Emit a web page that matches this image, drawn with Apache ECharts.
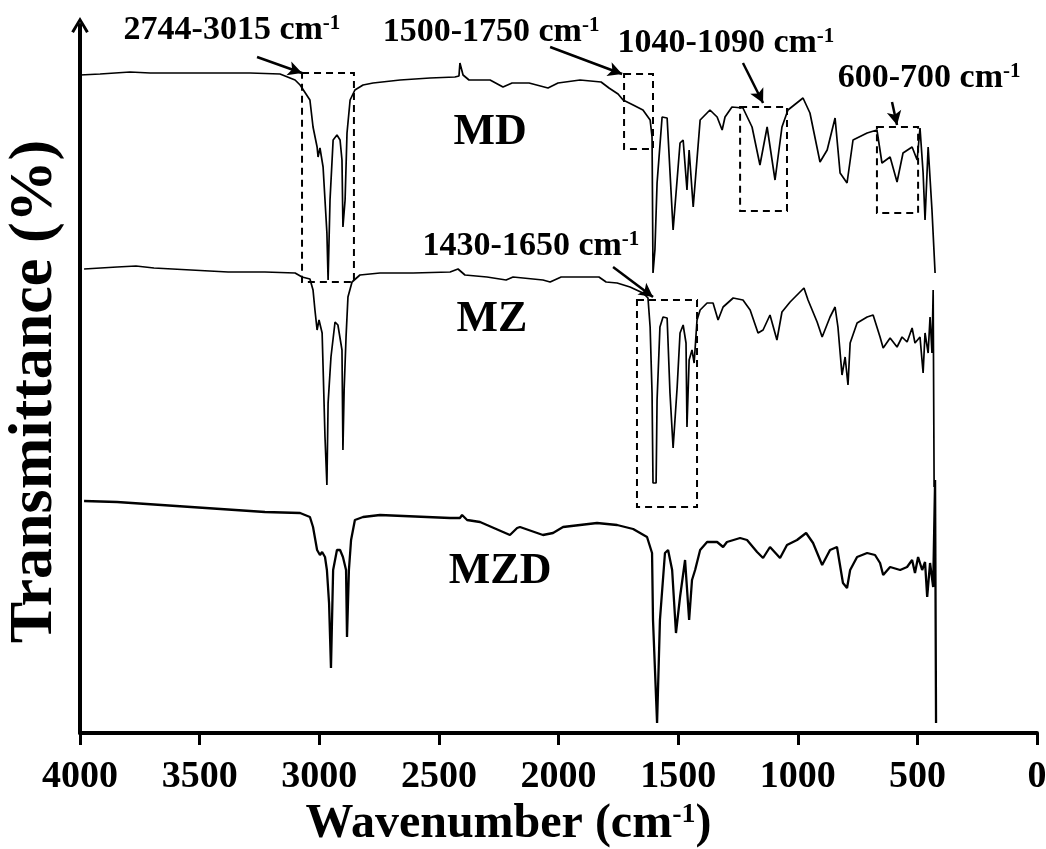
<!DOCTYPE html>
<html><head><meta charset="utf-8">
<script src="https://cdn.jsdelivr.net/npm/echarts@6/dist/echarts.min.js"></script>
<style>html,body{margin:0;padding:0;background:#fff}#c{width:1046px;height:849px}</style>
</head><body><div id="c"></div>
<script>
// [wavenumber (cm-1), transmittance (a.u., curves offset)]
const mdData = [[4000,131.6],[3916,131.8],[3791,132.2],[3707,132.0],[3498,132.0],[3289,132.0],[3164,131.8],[3101,130.6],[3080,129.6],[3039,126.6],[3026,121.2],[3009,117.2],[3005,115.2],[2997,117.0],[2984,113.2],[2968,100.0],[2963,90.6],[2955,106.6],[2942,118.6],[2926,119.6],[2913,118.6],[2905,114.6],[2901,101.2],[2892,106.6],[2884,120.0],[2871,126.6],[2851,128.6],[2817,129.6],[2775,130.0],[2662,130.6],[2537,131.0],[2433,131.2],[2416,131.4],[2412,134.0],[2399,131.6],[2374,130.6],[2286,130.6],[2232,129.2],[2194,130.0],[2123,130.0],[2044,129.0],[2002,130.0],[1910,130.6],[1822,130.2],[1789,129.0],[1751,127.8],[1730,126.6],[1688,125.6],[1647,124.6],[1617,122.6],[1609,119.2],[1605,92.0],[1597,96.6],[1588,110.0],[1567,123.2],[1546,123.0],[1521,100.6],[1492,118.0],[1479,118.6],[1463,108.6],[1454,116.6],[1437,105.2],[1408,122.6],[1367,124.6],[1337,123.2],[1316,120.6],[1304,123.2],[1275,125.2],[1229,125.0],[1191,121.2],[1158,113.6],[1128,121.2],[1095,110.6],[1066,121.2],[1041,124.6],[978,127.0],[949,124.0],[907,114.2],[877,116.6],[844,123.0],[823,112.0],[794,110.0],[769,118.6],[710,120.0],[669,120.6],[648,114.0],[614,115.2],[585,110.2],[560,116.0],[522,117.2],[501,114.6],[489,121.0],[476,112.0],[468,102.6],[455,117.2],[439,104.6],[426,92.0]];
const mzData = [[3983,92.8],[3845,93.2],[3766,93.4],[3691,93.0],[3536,92.6],[3381,92.2],[3227,92.2],[3101,92.0],[3072,91.2],[3039,90.8],[3026,88.6],[3018,84.6],[3009,80.6],[3001,82.6],[2988,80.0],[2984,73.2],[2976,59.2],[2968,49.6],[2963,66.0],[2951,75.2],[2934,82.2],[2922,81.6],[2905,76.6],[2901,56.6],[2896,68.6],[2888,79.2],[2880,87.2],[2863,90.2],[2830,91.6],[2746,92.0],[2608,92.0],[2453,92.2],[2420,92.8],[2391,91.6],[2299,91.2],[2219,90.6],[2190,91.2],[2065,90.6],[2035,90.2],[1989,91.2],[1831,91.2],[1801,90.2],[1755,90.0],[1701,89.2],[1647,88.0],[1626,87.0],[1617,81.2],[1609,68.0],[1605,50.0],[1592,50.0],[1588,66.6],[1576,81.2],[1563,83.2],[1546,83.0],[1534,68.0],[1521,57.0],[1504,69.2],[1492,80.0],[1479,81.6],[1467,78.0],[1463,61.2],[1454,74.6],[1442,76.6],[1433,74.0],[1421,82.6],[1408,84.6],[1379,86.0],[1354,86.0],[1333,82.6],[1312,85.2],[1270,87.0],[1229,86.6],[1199,84.6],[1166,80.0],[1145,80.6],[1116,83.6],[1087,78.6],[1066,84.2],[1032,86.2],[974,89.0],[957,86.6],[919,82.2],[898,79.2],[865,83.2],[844,85.2],[832,81.2],[815,71.6],[802,75.2],[790,69.6],[781,78.0],[752,82.0],[710,83.2],[685,83.6],[656,79.2],[643,77.0],[614,79.0],[585,77.2],[564,79.2],[543,78.2],[522,81.0],[510,78.0],[489,79.2],[476,72.0],[468,80.0],[455,76.0],[447,83.2],[439,76.0],[434,88.6],[430,49.2]];
const mzdData = [[3983,46.4],[3845,46.2],[3536,45.2],[3227,44.2],[3080,44.0],[3039,43.2],[3026,41.2],[3009,36.6],[2997,35.6],[2988,36.2],[2976,35.2],[2968,32.6],[2959,26.0],[2951,13.0],[2942,32.6],[2926,36.6],[2913,36.6],[2901,35.2],[2888,32.6],[2884,19.2],[2876,32.6],[2867,38.6],[2851,42.6],[2817,43.2],[2746,43.6],[2453,43.0],[2412,43.0],[2403,43.6],[2382,42.6],[2328,42.2],[2203,39.6],[2173,41.0],[2161,41.2],[2065,39.6],[2023,40.0],[1981,41.2],[1839,42.0],[1755,41.6],[1688,40.8],[1630,39.2],[1609,36.0],[1605,22.6],[1588,2.0],[1576,22.6],[1555,36.0],[1542,36.6],[1525,32.6],[1509,20.0],[1492,27.2],[1471,34.6],[1463,34.6],[1454,22.6],[1442,30.6],[1429,32.6],[1408,36.6],[1379,38.2],[1337,38.2],[1312,37.2],[1296,38.2],[1241,39.0],[1212,38.6],[1170,36.2],[1145,35.0],[1116,37.2],[1074,35.0],[1045,37.6],[1003,38.6],[965,40.0],[936,38.0],[898,33.6],[865,36.6],[836,37.2],[811,30.0],[794,29.0],[781,32.6],[752,35.2],[710,36.0],[677,35.6],[656,34.0],[643,31.6],[614,33.2],[572,32.6],[543,33.2],[522,34.6],[510,32.0],[497,35.2],[480,32.6],[468,34.2],[459,27.2],[447,34.0],[434,29.2],[426,50.6],[422,2.0]];

const sampleNames = ['MD', 'MZ', 'MZD'];
const sampleLabelAt = [[2286, 120.0], [2278, 82.6], [2244, 32.2]];
const bandTexts = ['2744-3015', '1500-1750', '1040-1090', '600-700', '1430-1650'];
const bandTextAt = [[3365, 140.6], [2282, 140.2], [1300, 138.0], [451, 131.0], [2115, 97.4]];
const bandBoxes = [[[3072, 132.0], [2855, 90.2]], [[1726, 131.8], [1605, 116.8]], [[1241, 125.2], [1045, 104.4]], [[669, 121.2], [497, 104.0]], [[1672, 86.6], [1421, 45.2]]];
const bandArrows = [[[3260, 135.2], [3072, 132.0]], [[2035, 137.2], [1734, 131.8]], [[1229, 134.0], [1145, 126.0]], [[606, 126.2], [585, 121.6]], [[1772, 93.2], [1605, 87.2]]];

const font = "'Liberation Serif','Times New Roman',serif";
const txt = (size) => ({fontFamily: font, fontWeight: 'bold', fontSize: size, color: '#000'});
const bandRich = {a: txt(34), s: Object.assign(txt(21), {verticalAlign: 'top'})};

const chart = echarts.init(document.getElementById('c'), null, {renderer: 'canvas'});

const markPointData = [];
sampleNames.forEach((n, i) => markPointData.push({
  name: n, coord: sampleLabelAt[i],
  label: {formatter: '{m|' + n + '}', rich: {m: txt(44)}}
}));
bandTexts.forEach((t, i) => markPointData.push({
  name: t, coord: bandTextAt[i],
  label: {formatter: '{a|' + t + ' cm}{s|-1}', rich: bandRich}
}));

const option = {
  animation: false,
  backgroundColor: '#fff',
  grid: {left: 80, right: 9, top: 25, bottom: 116, containLabel: false, outerBoundsMode: 'none'},
  xAxis: {
    type: 'value', inverse: true, min: 0, max: 4000, interval: 500,
    name: '{a|Wavenumber (cm}{s|-1}{a|)}', nameLocation: 'middle', nameGap: 62,
    nameTextStyle: {padding: [0, 100, 0, 0], rich: {a: txt(48), s: Object.assign(txt(28), {verticalAlign: 'top'})}},
    axisLine: {onZero: false, lineStyle: {color: '#000', width: 4}},
    axisTick: {inside: false, length: 12, lineStyle: {color: '#000', width: 3}},
    axisLabel: Object.assign({margin: 25, formatter: v => String(v)}, txt(38)),
    splitLine: {show: false}
  },
  yAxis: {
    type: 'value', min: 0, max: 141.6,
    name: 'Transmittance (%)', nameLocation: 'middle', nameRotate: 90, nameGap: 14,
    nameTextStyle: Object.assign({padding: [0, 25, 0, 0]}, txt(62)),
    axisLine: {show: true, onZero: false,
      symbol: ['none', 'path://M0,10 L6,0 L12,10 L10.2,11 L6,3.6 L1.8,11 Z'],
      symbolSize: [20, 16],
      lineStyle: {color: '#000', width: 4}},
    axisTick: {show: false}, axisLabel: {show: false}, splitLine: {show: false}
  },
  series: [
    {
      type: 'line', name: 'MD', data: mdData, showSymbol: false, symbol: 'none', silent: true,
      lineStyle: {color: '#000', width: 1.7},
      markArea: {
        silent: true,
        itemStyle: {color: 'rgba(0,0,0,0)', borderColor: '#000', borderWidth: 2, borderType: [7, 5]},
        label: {show: false},
        data: bandBoxes.map(b => [{coord: b[0]}, {coord: b[1]}])
      },
      markLine: {
        silent: true, symbol: ['none', 'arrow'], symbolSize: [11, 14],
        lineStyle: {color: '#000', width: 2.5, type: 'solid'},
        label: {show: false},
        data: bandArrows.map(a => [{coord: a[0]}, {coord: a[1]}])
      },
      markPoint: {
        silent: true, symbol: 'circle', symbolSize: 1,
        itemStyle: {color: 'rgba(0,0,0,0)'},
        label: {show: true, position: 'inside'},
        data: markPointData
      }
    },
    {type: 'line', name: 'MZ', data: mzData, showSymbol: false, symbol: 'none', silent: true,
      lineStyle: {color: '#000', width: 1.7}},
    {type: 'line', name: 'MZD', data: mzdData, showSymbol: false, symbol: 'none', silent: true,
      lineStyle: {color: '#000', width: 2.3}}
  ]
};
chart.setOption(option);
</script>
</body></html>
